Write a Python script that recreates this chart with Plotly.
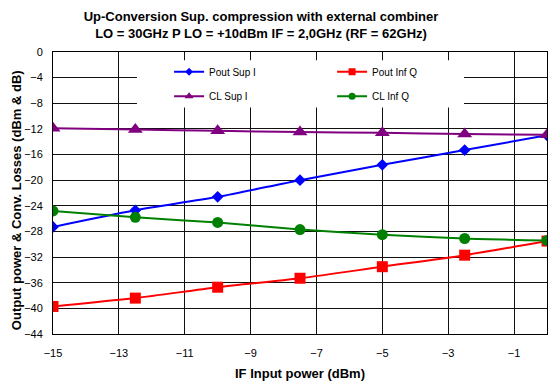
import plotly.graph_objects as go

# IF input power sweep (dBm)
if_power = [-15, -12.5, -10, -7.5, -5, -2.5, 0]

# Measured output power (dBm) and conversion losses (dB)
pout_sup_i = [-27.3, -24.7, -22.6, -20.0, -17.6, -15.3, -13.0]
pout_inf_q = [-39.7, -38.4, -36.7, -35.3, -33.5, -31.7, -29.5]
cl_sup_i = [-11.9, -12.1, -12.3, -12.5, -12.6, -12.8, -12.9]
cl_inf_q = [-24.8, -25.8, -26.6, -27.7, -28.5, -29.1, -29.4]

x_ticks = [-15, -13, -11, -9, -7, -5, -3, -1]
y_ticks = list(range(-44, 1, 4))

FONT = "Liberation Sans, Arial, sans-serif"

# name, values, colour, marker symbol, plot marker size, legend marker size, legend row
series = [
    ("Pout Sup I", pout_sup_i, "#0000FF", "diamond", 9, 6, "legend"),
    ("Pout Inf Q", pout_inf_q, "#FF0000", "square", 11, 7, "legend"),
    ("CL Sup I", cl_sup_i, "#800080", "triangle-up", 13, 8, "legend2"),
    ("CL Inf Q", cl_inf_q, "#008000", "circle", 11, 7, "legend2"),
]

fig = go.Figure()
for name, vals, color, symbol, size, leg_size, leg in series:
    fig.add_trace(go.Scatter(
        x=if_power, y=vals, name=name, mode="lines+markers",
        line=dict(color=color, width=2, shape="spline", smoothing=0.8),
        marker=dict(color=color, symbol=symbol, size=size),
        showlegend=False,
    ))
    # legend entry with the smaller key symbol
    fig.add_trace(go.Scatter(
        x=[None], y=[None], name=name, mode="lines+markers",
        line=dict(color=color, width=2),
        marker=dict(color=color, symbol=symbol, size=leg_size),
        legend=leg, hoverinfo="skip",
    ))

# white panel behind the two legend rows
fig.add_shape(type="rect", xref="paper", yref="paper",
              x0=0.17, x1=0.832, y0=0.803, y1=0.971,
              fillcolor="white", line=dict(width=0), layer="above")

# vertical axis title, set slightly below the plot's mid-height
fig.add_annotation(
    text="<b>Output power & Conv. Losses (dBm & dB)</b>",
    xref="paper", yref="paper", x=-0.0747, y=0.475,
    xanchor="center", yanchor="middle", textangle=-90, showarrow=False,
    font=dict(family=FONT, size=13, color="black"),
)

legend_common = dict(
    orientation="h", xanchor="left", yanchor="middle",
    bgcolor="rgba(0,0,0,0)", borderwidth=0,
    font=dict(family=FONT, size=10, color="black"),
    entrywidth=118, entrywidthmode="pixels",
)

fig.update_layout(
    width=557, height=387,
    margin=dict(l=53, r=9, t=52, b=50),
    paper_bgcolor="white", plot_bgcolor="white",
    font=dict(family=FONT, size=11, color="black"),
    title=dict(
        text="<b>Up-Conversion Sup. compression with external combiner<br>"
             "LO = 30GHz P LO = +10dBm IF = 2,0GHz (RF = 62GHz)</b>",
        x=261 / 557, xanchor="center", xref="container",
        y=1 - 21 / 387, yanchor="top", yref="container",
        font=dict(family=FONT, size=13, color="black"),
    ),
    legend=dict(x=0.235, y=0.93, **legend_common),
    legend2=dict(x=0.235, y=0.843, **legend_common),
    xaxis=dict(
        range=[-15, 0], tickvals=x_ticks,
        showgrid=True, gridcolor="#111111", gridwidth=1,
        showline=True, linecolor="black", linewidth=1, mirror=True,
        zeroline=False, ticks="", ticklabelstandoff=9,
        tickfont=dict(family=FONT, size=11, color="black"),
        title=dict(text="<b>IF Input power (dBm)</b>", standoff=10,
                   font=dict(family=FONT, size=13, color="black")),
    ),
    yaxis=dict(
        range=[-44, 0], tickvals=y_ticks,
        showgrid=True, gridcolor="#111111", gridwidth=1,
        showline=True, linecolor="black", linewidth=1, mirror=True,
        zeroline=False, ticks="", ticklabelstandoff=7,
        tickfont=dict(family=FONT, size=11, color="black"),
    ),
)

fig.write_html("out.html")
